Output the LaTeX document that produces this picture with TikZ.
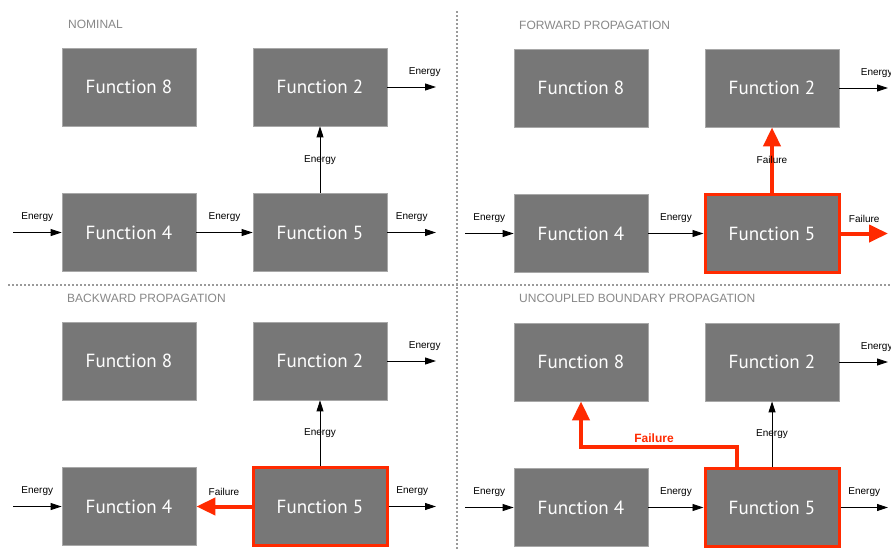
\documentclass[tikz,border=0pt]{standalone}
\usepackage{fontspec}
\setmainfont{Liberation Sans}
\newfontfamily\boxfont{PT Sans}
\usetikzlibrary{arrows.meta}
\definecolor{boxgray}{HTML}{777777}
\definecolor{boxedge}{HTML}{A8A8A8}
\definecolor{failred}{HTML}{FF2A00}
\definecolor{titlegray}{HTML}{888888}
\definecolor{dotgray}{HTML}{9A9A9A}
\tikzset{
 fbox/.style={fill=boxgray, draw=boxedge, line width=0.8pt, minimum width=134pt, minimum height=78pt, inner sep=0pt, text=white, font=\boxfont\fontsize{19}{19}\selectfont},
 failbox/.style={fbox, draw=failred, line width=3pt},
 earrow/.style={draw=black, line width=0.9pt, -{Triangle[width=7pt,length=11pt]}},
 farrow/.style={draw=failred, line width=4pt, -{Triangle[width=17pt,length=19pt]}},
 lbl/.style={font=\fontsize{10}{10}\selectfont, text=black, inner sep=0pt},
 redlbl/.style={font=\bfseries\fontsize{12}{12}\selectfont, text=failred, inner sep=0pt},
 quadtitle/.style={font=\fontsize{12}{12}\selectfont, text=titlegray, anchor=west, inner sep=0pt},
 divider/.style={draw=dotgray, line width=2pt, dash pattern=on 2pt off 2pt}
}
\begin{document}
\begin{tikzpicture}[x=1pt,y=-1pt]
\useasboundingbox (0,0) rectangle (891,550);
\clip (0,0) rectangle (891,550);
\fill[white] (0,0) rectangle (891,550);
% dividers
\coordinate (vtop) at (457,11);
\coordinate (vbot) at (457,550);
\coordinate (hl) at (8,285);
\coordinate (hr) at (891,285);
\draw[divider] (vtop) -- (vbot);
\draw[divider] (hl) -- (hr);

% ---------- NOMINAL ----------
\begin{scope}[name prefix=a-]
\node[quadtitle] (t) at (68,24) {NOMINAL};
\node[fbox] (f8) at (129,87) {Function 8};
\node[fbox] (f2) at (320,87) {Function 2};
\node[fbox] (f4) at (129,232.5) {Function 4};
\node[fbox] (f5) at (320,232.5) {Function 5};
\coordinate (in) at (13,232.5);
\coordinate (o2) at (436,87);
\coordinate (o5) at (436,232.5);
\draw[earrow] (in) -- (f4) node[lbl, midway, yshift=15pt] {Energy};
\draw[earrow] (f4) -- (f5) node[lbl, midway, yshift=15pt] {Energy};
\draw[earrow] (f5) -- (o5) node[lbl, midway, yshift=15pt] {Energy};
\draw[earrow] (f2) -- (o2) node[lbl, midway, yshift=15pt, xshift=13pt] {Energy};
\draw[earrow] (f5) -- (f2) node[lbl, midway] {Energy};
\end{scope}

% ---------- FORWARD ----------
\begin{scope}[shift={(452,1)}, name prefix=b-]
\node[quadtitle] (t) at (67,24) {FORWARD PROPAGATION};
\node[fbox] (f8) at (129,87) {Function 8};
\node[fbox] (f2) at (320,87) {Function 2};
\node[fbox] (f4) at (129,232.5) {Function 4};
\node[failbox] (f5) at (320,232.5) {Function 5};
\coordinate (in) at (13,232.5);
\coordinate (o2) at (436,87);
\coordinate (o5) at (436,232.5);
\draw[earrow] (in) -- (f4) node[lbl, midway, yshift=15pt] {Energy};
\draw[earrow] (f4) -- (f5) node[lbl, midway, yshift=15pt] {Energy};
\draw[earrow] (f2) -- (o2) node[lbl, midway, yshift=15pt, xshift=13pt] {Energy};
\draw[farrow] (f5) -- (o5) node[lbl, midway, yshift=15pt] {Failure};
\draw[farrow] (f5) -- (f2) node[lbl, midway] {Failure};
\end{scope}

% ---------- BACKWARD ----------
\begin{scope}[shift={(0,274)}, name prefix=c-]
\node[quadtitle] (t) at (67,24) {BACKWARD PROPAGATION};
\node[fbox] (f8) at (129,87) {Function 8};
\node[fbox] (f2) at (320,87) {Function 2};
\node[fbox] (f4) at (129,232.5) {Function 4};
\node[failbox] (f5) at (320,232.5) {Function 5};
\coordinate (in) at (13,232.5);
\coordinate (o2) at (436,87);
\coordinate (o5) at (436,232.5);
\draw[earrow] (in) -- (f4) node[lbl, midway, yshift=15pt] {Energy};
\draw[farrow] (f5) -- (f4) node[lbl, midway, yshift=15pt] {Failure};
\draw[earrow] (f5) -- (o5) node[lbl, midway, yshift=15pt] {Energy};
\draw[earrow] (f2) -- (o2) node[lbl, midway, yshift=15pt, xshift=13pt] {Energy};
\draw[earrow] (f5) -- (f2) node[lbl, midway] {Energy};
\end{scope}

% ---------- UNCOUPLED BOUNDARY ----------
\begin{scope}[shift={(452,275)}, name prefix=d-]
\node[quadtitle] (t) at (67,23) {UNCOUPLED BOUNDARY PROPAGATION};
\node[fbox] (f8) at (129,87) {Function 8};
\node[fbox] (f2) at (320,87) {Function 2};
\node[fbox] (f4) at (129,232.5) {Function 4};
\node[failbox] (f5) at (320,232.5) {Function 5};
\coordinate (in) at (13,232.5);
\coordinate (o2) at (436,87);
\coordinate (o5) at (436,232.5);
\coordinate (bend) at (129,172);
\draw[earrow] (in) -- (f4) node[lbl, midway, yshift=15pt] {Energy};
\draw[earrow] (f4) -- (f5) node[lbl, midway, yshift=15pt] {Energy};
\draw[earrow] (f5) -- (o5) node[lbl, midway, yshift=15pt] {Energy};
\draw[earrow] (f2) -- (o2) node[lbl, midway, yshift=15pt, xshift=13pt] {Energy};
\draw[earrow] (f5) -- (f2) node[lbl, midway] {Energy};
\draw[farrow] ([xshift=-35pt]f5.north) |- (bend) -- (f8.south);
\node[redlbl] (fl) at (202,163) {Failure};
\end{scope}
\end{tikzpicture}
\end{document}
